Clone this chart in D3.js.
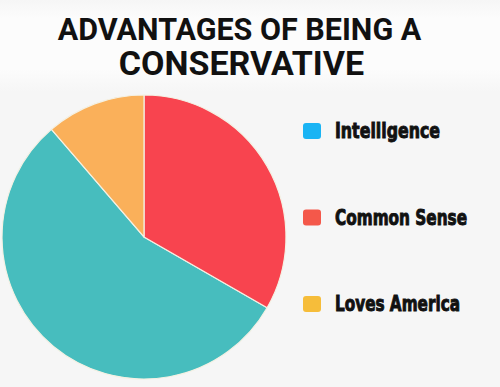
<!DOCTYPE html>
<html>
<head>
<meta charset="utf-8">
<script src="https://cdn.jsdelivr.net/npm/d3@7"></script>
<style>
  html, body { margin: 0; padding: 0; background: #f6f6f6; }
  svg { display: block; }
</style>
</head>
<body>
<svg id="chart" width="500" height="387"></svg>
<script>
// data
const categories = ["Intelligence", "Common Sense", "Loves America"];
const shares = [55.4, 33.3, 11.3];
const sliceColors = ["#47bdbe", "#f8444f", "#fab05a"];
const legendColors = ["#1ab4f4", "#f4584a", "#f6bd3a"];
// clockwise from 12 o'clock
const sliceOrder = ["Common Sense", "Intelligence", "Loves America"];
const titleLines = ["ADVANTAGES OF BEING A", "CONSERVATIVE"];

const width = 500, height = 387;
const svg = d3.select("#chart");

const data = categories.map((c, i) => ({ name: c, value: shares[i], i: i }));

// soft lighter band behind the title
const grad = svg.append("defs").append("linearGradient")
  .attr("id", "band").attr("x1", 0).attr("y1", 0).attr("x2", 0).attr("y2", 1);
grad.append("stop").attr("offset", "0%").attr("stop-color", "#f6f6f6");
grad.append("stop").attr("offset", "20%").attr("stop-color", "#fcfcfc");
grad.append("stop").attr("offset", "75%").attr("stop-color", "#fcfcfc");
grad.append("stop").attr("offset", "100%").attr("stop-color", "#f6f6f6");
svg.append("rect")
  .attr("x", 0).attr("y", 0)
  .attr("width", width).attr("height", 92)
  .attr("fill", "url(#band)");

const title = svg.append("g")
  .attr("text-anchor", "middle")
  .style("font-family", "Roboto, 'Liberation Sans', sans-serif")
  .style("font-weight", 700)
  .attr("fill", "#111");
title.append("text")
  .attr("x", 239.5).attr("y", 40)
  .style("font-size", "30.5px")
  .text(titleLines[0]);
title.append("text")
  .attr("x", 241.5).attr("y", 75)
  .style("font-size", "34px")
  .text(titleLines[1]);

// pie
const cx = 144, cy = 237, r = 142;
const pie = d3.pie()
  .value(d => d.value)
  .sort((a, b) => sliceOrder.indexOf(a.name) - sliceOrder.indexOf(b.name));
const arc = d3.arc().innerRadius(0).outerRadius(r);

const color = d3.scaleOrdinal().domain(categories).range(sliceColors);

svg.append("g")
  .attr("transform", `translate(${cx},${cy})`)
  .selectAll("path")
  .data(pie(data))
  .join("path")
  .attr("d", arc)
  .attr("fill", d => color(d.data.name))
  .attr("stroke", "#f4f1e4")
  .attr("stroke-width", 1.2);

// legend
const legendY = d3.scalePoint().domain(categories).range([131, 304]);
const legendWidths = [105, 132, 125];
const legendColor = d3.scaleOrdinal().domain(categories).range(legendColors);

const legend = svg.append("g")
  .selectAll("g")
  .data(data)
  .join("g")
  .attr("transform", d => `translate(0,${legendY(d.name)})`);

legend.append("rect")
  .attr("x", 303).attr("y", -8)
  .attr("width", 18).attr("height", 16)
  .attr("rx", 3)
  .attr("fill", d => legendColor(d.name));

legend.append("text")
  .attr("x", 335).attr("y", 7)
  .attr("textLength", d => legendWidths[d.i])
  .attr("lengthAdjust", "spacingAndGlyphs")
  .style("font-family", "'Liberation Sans Narrow', 'DejaVu Sans Condensed', sans-serif")
  .style("font-weight", 700)
  .style("font-size", "21px")
  .attr("fill", "#111")
  .attr("stroke", "#111")
  .attr("stroke-width", 0.9)
  .text(d => d.name);
</script>
</body>
</html>
